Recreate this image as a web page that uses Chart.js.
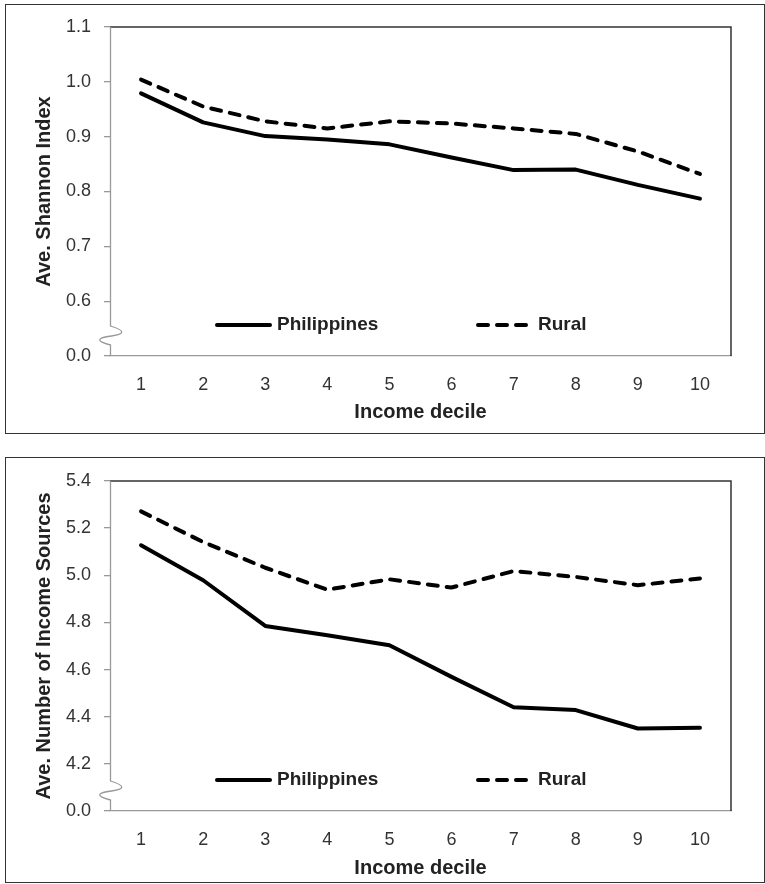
<!DOCTYPE html>
<html>
<head>
<meta charset="utf-8">
<script src="https://cdn.jsdelivr.net/npm/chart.js@4"></script>
<style>
  body { margin: 0; background: #fff; }
  .box { position: absolute; border: 1.5px solid #333; box-sizing: border-box; }
  #box1 { left: 5px; top: 4px; width: 760px; height: 430px; }
  #box2 { left: 5px; top: 457px; width: 760px; height: 426px; }
  .wrap { position: absolute; left: 0; width: 765px; }
  #wrap1 { top: 0; height: 440px; }
  #wrap2 { top: 440px; height: 444px; }
</style>
</head>
<body>
<div class="box" id="box1"></div>
<div class="box" id="box2"></div>
<div class="wrap" id="wrap1"><canvas id="shannon"></canvas></div>
<div class="wrap" id="wrap2"><canvas id="sources"></canvas></div>
<script>
const deciles = ['1', '2', '3', '4', '5', '6', '7', '8', '9', '10'];
const seriesNames = ['Philippines', 'Rural'];

const shannonPhilippines = [0.979, 0.926, 0.901, 0.895, 0.886, 0.862, 0.839, 0.840, 0.812, 0.787];
const shannonRural = [1.004, 0.955, 0.928, 0.915, 0.928, 0.924, 0.915, 0.905, 0.873, 0.832];

const sourcesPhilippines = [5.127, 4.979, 4.785, 4.746, 4.703, 4.569, 4.440, 4.428, 4.350, 4.353];
const sourcesRural = [5.271, 5.141, 5.032, 4.939, 4.983, 4.948, 5.018, 4.993, 4.958, 4.986];

const breakLabel = '0.0';

Chart.defaults.font.family = '"Liberation Sans", Arial, sans-serif';
Chart.defaults.color = '#333';

// plot frame, broken y axis and in-plot legend
const framePlugin = {
  id: 'frame',
  afterDraw(chart) {
    const { ctx, chartArea: a } = chart;
    ctx.save();
    ctx.strokeStyle = '#333';
    ctx.lineWidth = 1.5;
    ctx.beginPath();
    ctx.moveTo(a.left, a.top);
    ctx.lineTo(a.right, a.top);
    ctx.lineTo(a.right, a.bottom);
    ctx.stroke();

    const x = a.left + 0.5, y0 = a.bottom - 30;
    ctx.strokeStyle = '#999';
    ctx.lineWidth = 1.3;
    ctx.beginPath();
    ctx.moveTo(x, a.top);
    ctx.lineTo(x, y0);
    ctx.quadraticCurveTo(x + 22, y0 + 7, x + 1, y0 + 10);
    ctx.quadraticCurveTo(x - 22, y0 + 13, x, y0 + 19);
    ctx.lineTo(x, a.bottom);
    ctx.stroke();

    const ly = a.bottom - 31;
    const offsets = [107, 368];
    chart.data.datasets.forEach((ds, i) => {
      const sx = a.left + offsets[i];
      ctx.strokeStyle = '#000';
      ctx.lineWidth = 4;
      ctx.lineCap = 'round';
      ctx.setLineDash(ds.borderDash || []);
      ctx.beginPath();
      ctx.moveTo(sx, ly);
      ctx.lineTo(sx + 53, ly);
      ctx.stroke();
      ctx.setLineDash([]);
      ctx.fillStyle = '#222';
      ctx.font = 'bold 19px "Liberation Sans", Arial, sans-serif';
      ctx.textBaseline = 'middle';
      ctx.fillText(ds.label, sx + 60, ly);
    });
    ctx.restore();
  }
};

function makeChart(id, philippines, rural, yTitle, yMin, yMax, step, topPad, xHeight, titleBottom) {
  return new Chart(document.getElementById(id), {
    type: 'line',
    data: {
      labels: deciles,
      datasets: [
        { label: seriesNames[0], data: philippines, borderColor: '#000', borderWidth: 4,
          pointRadius: 0, borderCapStyle: 'round', borderJoinStyle: 'round', tension: 0 },
        { label: seriesNames[1], data: rural, borderColor: '#000', borderWidth: 4,
          borderDash: [10, 9], pointRadius: 0, borderCapStyle: 'round', borderJoinStyle: 'round', tension: 0 }
      ]
    },
    options: {
      responsive: true,
      maintainAspectRatio: false,
      animation: false,
      layout: { padding: { top: topPad, right: 34, left: 0, bottom: 0 } },
      plugins: { legend: { display: false }, tooltip: { enabled: false } },
      scales: {
        x: {
          offset: true,
          grid: { display: false, drawTicks: false },
          border: { color: '#999', width: 1.3 },
          ticks: { padding: 18, font: { size: 18 }, color: '#333' },
          title: { display: true, text: 'Income decile', color: '#222',
                   font: { size: 20, weight: 'bold' }, padding: { top: 0, bottom: titleBottom } },
          afterFit(scale) { scale.height = xHeight; }
        },
        y: {
          min: yMin,
          max: yMax,
          grid: { drawOnChartArea: false, drawTicks: true, tickLength: 6, color: '#999', lineWidth: 1.3 },
          border: { display: false },
          ticks: {
            stepSize: step,
            padding: 13,
            font: { size: 18 },
            color: '#333',
            callback: v => (Math.abs(v - yMin) < 1e-6 ? breakLabel : v.toFixed(1))
          },
          title: { display: true, text: yTitle, color: '#222',
                   font: { size: 20, weight: 'bold' }, padding: { top: 32, bottom: 0 } },
          afterFit(scale) { scale.width = 110; }
        }
      }
    },
    plugins: [framePlugin]
  });
}

makeChart('shannon', shannonPhilippines, shannonRural, 'Ave. Shannon Index', 0.5, 1.1, 0.1, 27, 84, 16);
makeChart('sources', sourcesPhilippines, sourcesRural, 'Ave. Number of Income Sources', 4.0, 5.4, 0.2, 41, 73, 4);
</script>
</body>
</html>
